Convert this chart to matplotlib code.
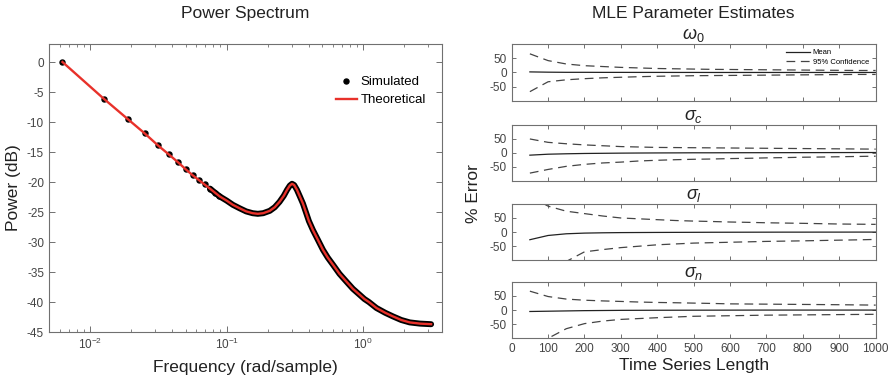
import numpy as np
import matplotlib
matplotlib.use('Agg')
import matplotlib.pyplot as plt
from matplotlib.lines import Line2D

plt.rcParams['font.family'] = ['Liberation Sans', 'DejaVu Sans']
plt.rcParams['mathtext.fontset'] = 'custom'
plt.rcParams['mathtext.rm'] = 'Liberation Sans'
plt.rcParams['mathtext.it'] = 'Liberation Sans:italic'
plt.rcParams['axes.unicode_minus'] = False

# ---- Power spectrum data ----
# simulated periodogram points that are still separate at low frequency
sim_freq = [0.00628, 0.01257, 0.01885, 0.02513, 0.03142, 0.0377, 0.04398,
            0.05027, 0.05655, 0.06283, 0.06912, 0.0754, 0.08168, 0.08796]
sim_db = [0.0, -6.1, -9.5, -11.9, -13.9, -15.4, -16.7,
          -17.9, -18.9, -19.7, -20.4, -21.1, -21.8, -22.4]

# theoretical spectrum
theo_freq = [0.00628, 0.01257, 0.01885, 0.02513, 0.03142, 0.0377, 0.04398,
             0.05027, 0.05655, 0.06283, 0.0754, 0.0889, 0.1, 0.111, 0.125,
             0.139, 0.155, 0.169, 0.185, 0.207, 0.225, 0.244, 0.262, 0.277,
             0.29, 0.301, 0.312, 0.327, 0.345, 0.362, 0.38, 0.4, 0.428, 0.46,
             0.507, 0.55, 0.601, 0.67, 0.753, 0.84, 0.942, 1.02, 1.1, 1.25,
             1.45, 1.65, 1.9, 2.19, 2.6, 3.14]
theo_db = [0.0, -6.1, -9.5, -11.9, -13.9, -15.4, -16.7,
           -17.9, -18.9, -19.7, -21.1, -22.4, -23.1, -23.8, -24.4,
           -24.9, -25.2, -25.3, -25.2, -24.8, -24.2, -23.3, -22.3, -21.3,
           -20.6, -20.3, -20.5, -21.3, -22.5, -23.6, -25.0, -26.5, -28.0, -29.4,
           -31.3, -32.6, -33.8, -35.3, -36.6, -37.8, -38.8, -39.5, -40.0, -41.0,
           -41.8, -42.4, -43.0, -43.4, -43.6, -43.7]

# ---- MLE parameter estimates (% error) ----
series_len = list(range(50, 1001, 50))

w0_mean = [2, 1, 0.5, 0.5, 0.3, 0.3, 0.2, 0.2, 0.1, 0.1, 0, 0, 0, 0, 0, 0, 0, 0, 0, 0]
w0_hi = [66, 42, 30, 24, 21, 18, 16, 14, 13, 12, 11, 10.5, 10, 9.5, 9, 8.5, 8, 7.5, 7, 7]
w0_lo = [-68, -33, -26, -22, -19, -17, -15, -13.5, -12.5, -11.5, -11, -10.5, -10,
         -9.5, -9, -8.5, -8, -7.5, -7, -7]

sc_mean = [-8.4, -5, -3.5, -2.4, -1.8, -1.2, -0.8, -0.5, -0.3, 0, 0, 0.2, 0.3,
           0.4, 0.5, 0.6, 0.7, 0.8, 0.9, 1]
sc_hi = [49, 37, 32, 28, 25, 22, 20.5, 19, 18.5, 18, 17.5, 17, 16.5, 16, 15.5,
         15, 14.5, 14, 13.5, 13]
sc_lo = [-72, -59, -48, -41, -36, -33, -29, -26.5, -24.5, -23, -22, -20.5, -19.5,
         -18, -17, -15.7, -15, -14, -13, -12]

sl_mean = [-27, -12, -6, -3.6, -2.5, -1.8, -1.5, -1.2, -1, -0.8, -0.6, -0.5, -0.4,
           -0.3, -0.2, -0.2, -0.1, -0.1, 0, 0]
sl_hi = [127, 92, 74, 65.5, 57, 50, 47, 44, 41, 39, 37.5, 35.7, 34.5, 33, 32, 31,
         29.8, 28.6, 28, 27.4]
sl_lo = [-200, -140, -104, -70, -62, -55, -50, -45, -42, -39, -37.5, -36, -34.5,
         -33, -32, -31, -29.8, -28.6, -27.5, -26]

sn_mean = [-5, -4, -3, -2, -1.5, -1, -0.8, -0.6, -0.5, -0.4, -0.3, -0.2, -0.1,
           0, 0, 0, 0, 0, 0, 0]
sn_hi = [67, 48, 39, 35, 32.5, 30.6, 28.5, 27, 26, 24.7, 23.5, 22, 21.5, 21, 20.5,
         20, 19.5, 19, 18.3, 17.6]
sn_lo = [-160, -100, -66, -48, -39, -33, -30, -27, -24.5, -22, -21, -20, -19, -18,
         -17.5, -17, -16.5, -16, -15.5, -15]

param_titles = [r'$\omega_0$', r'$\sigma_c$', r'$\sigma_l$', r'$\sigma_n$']
param_data = [(w0_mean, w0_hi, w0_lo), (sc_mean, sc_hi, sc_lo),
              (sl_mean, sl_hi, sl_lo), (sn_mean, sn_hi, sn_lo)]

spine_col = '#707070'
tick_col = '#444444'
red = '#e8312a'


def style_axes(ax):
    for s in ax.spines.values():
        s.set_color(spine_col)
        s.set_linewidth(0.8)
    ax.tick_params(which='both', direction='in', top=True, right=True,
                   colors=spine_col, labelcolor=tick_col)
    ax.tick_params(which='major', length=4, width=0.7)
    ax.tick_params(which='minor', length=2, width=0.6)


fig = plt.figure(figsize=(8.95, 3.84), dpi=100)

# ---- left: power spectrum ----
ax = fig.add_axes([0.0547, 0.1354, 0.4391, 0.75])
# beyond ~0.07 rad/sample the simulated points overlap into a solid band
ax.plot(theo_freq[10:], theo_db[10:], color='k', lw=4.3, solid_capstyle='round',
        solid_joinstyle='round', zorder=2)
ax.plot(sim_freq, sim_db, 'o', color='k', ms=3.6, zorder=2)
ax.plot(theo_freq, theo_db, color=red, lw=1.7, zorder=3)
ax.set_xscale('log')
ax.set_xlim(0.005, 3.77)
ax.set_ylim(-45, 3)
ax.set_yticks(np.arange(-45, 1, 5))
style_axes(ax)
ax.tick_params(labelsize=8.5)
ax.set_xlabel('Frequency (rad/sample)', fontsize=12.5, color='#222222', labelpad=6)
ax.set_ylabel('Power (dB)', fontsize=12.5, color='#222222', labelpad=4)
handles = [Line2D([], [], marker='o', color='k', ls='none', ms=3.6),
           Line2D([], [], color=red, lw=1.7)]
ax.legend(handles, ['Simulated', 'Theoretical'], loc='upper right', frameon=False,
          fontsize=9.5, bbox_to_anchor=(0.99, 0.93), handlelength=1.6,
          handletextpad=0.3, labelspacing=0.45)
fig.text(0.274, 0.965, 'Power Spectrum', ha='center', va='center',
         fontsize=12.5, color='#222222')

# ---- right: MLE parameter estimates ----
bottoms = [0.7378, 0.5286, 0.3221, 0.1190]
axes_r = []
for i, (title, (m, hi, lo)) in enumerate(zip(param_titles, param_data)):
    a = fig.add_axes([0.5717, bottoms[i], 0.4067, 0.147])
    a.plot(series_len, m, color='#222222', lw=0.9, label='Mean')
    a.plot(series_len, hi, color='#444444', lw=0.9, ls=(0, (7, 4.5)),
           label='95% Confidence')
    a.plot(series_len, lo, color='#444444', lw=0.9, ls=(0, (7, 4.5)))
    a.set_xlim(0, 1000)
    a.set_ylim(-100, 100)
    a.set_xticks(np.arange(0, 1001, 100))
    a.set_yticks([-50, 0, 50])
    style_axes(a)
    a.tick_params(labelsize=8.5)
    a.tick_params(axis='x', length=3)
    a.tick_params(axis='y', length=3)
    a.set_title(title, fontsize=13, color='#222222', pad=1)
    if i < 3:
        a.tick_params(labelbottom=False)
    axes_r.append(a)

axes_r[0].legend(loc='upper right', frameon=False, fontsize=5.5,
                 handlelength=3.2, handletextpad=0.3, labelspacing=0.3,
                 bbox_to_anchor=(1.0, 1.04))
axes_r[-1].set_xlabel('Time Series Length', fontsize=12.5, color='#222222',
                      labelpad=2)
fig.text(0.5287, 0.497, '% Error', rotation=90, ha='center', va='center',
         fontsize=12.5, color='#222222')
fig.text(0.775, 0.965, 'MLE Parameter Estimates', ha='center', va='center',
         fontsize=12.5, color='#222222')

fig.savefig('out.png', dpi=100)
